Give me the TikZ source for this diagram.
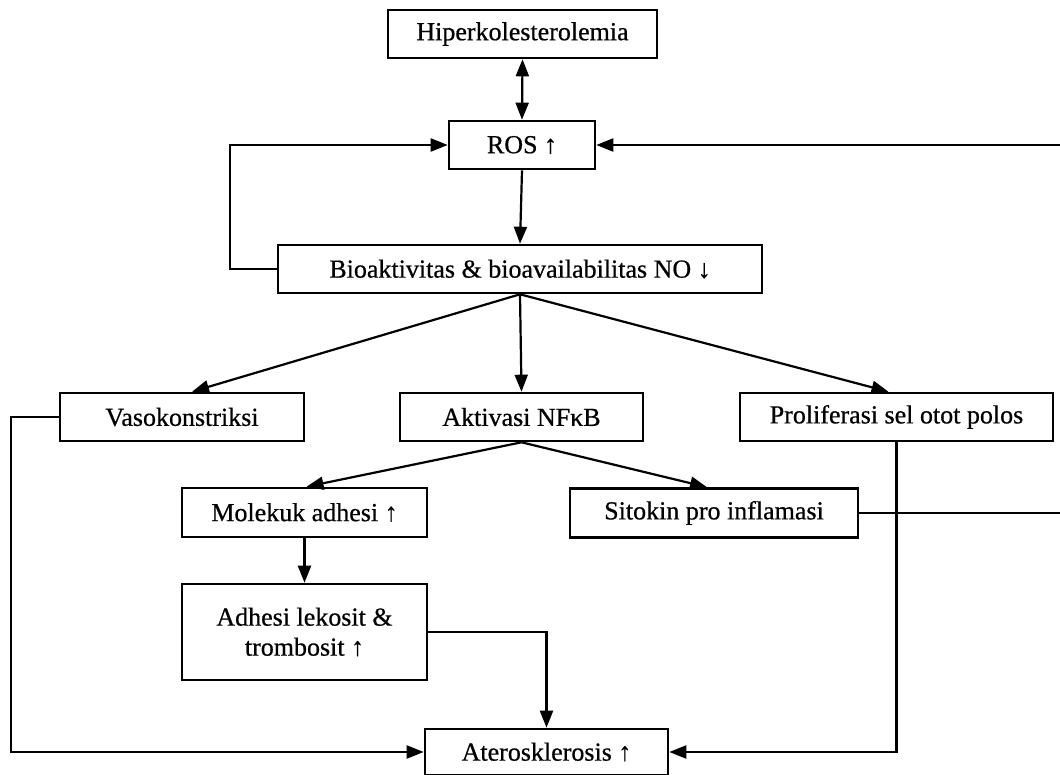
\documentclass[tikz,border=0pt]{standalone}
\usepackage{fontspec}
\setmainfont[FakeBold=0.6]{Liberation Serif}
\usetikzlibrary{arrows.meta}

\tikzset{
  box/.style={draw=black, line width=2.6pt, fill=white, inner sep=0pt,
    font=\fontsize{26}{30}\selectfont, align=center},
  link/.style={line width=2.2pt, draw=black},
  tip/.style={-{Triangle[length=17pt,width=13pt]}},
  arr/.style={link, tip},
  biarr/.style={link, {Triangle[length=17pt,width=13pt]}-{Triangle[length=17pt,width=13pt]}}
}

\begin{document}
\begin{tikzpicture}[x=1pt, y=-1pt]
\useasboundingbox (0,0) rectangle (1060,775);

% boxes
\node[box, minimum width=269pt, minimum height=48pt] (hiper) at (522.5,34) {Hiperkolesterolemia};
\node[box, minimum width=146pt, minimum height=48pt] (ros) at (522,145) {ROS ↑};
\node[box, minimum width=484pt, minimum height=48pt] (bio) at (520,269) {Bioaktivitas \& bioavailabilitas NO ↓};
\node[box, minimum width=244pt, minimum height=48pt] (vaso) at (182,417) {Vasokonstriksi};
\node[box, minimum width=243pt, minimum height=48pt] (akt) at (521.5,417) {Aktivasi NFκB};
\node[box, minimum width=313pt, minimum height=48pt] (prol) at (896.5,417) {Proliferasi sel otot polos};
\node[box, minimum width=245pt, minimum height=49pt] (mol) at (304.5,512.5) {Molekuk adhesi ↑};
\node[box, minimum width=288pt, minimum height=49pt] (sit) at (714,513) {Sitokin pro inflamasi};
\node[box, minimum width=245pt, minimum height=96pt] (adh) at (304.5,632) {Adhesi lekosit \&\\trombosit ↑};
\node[box, minimum width=243pt, minimum height=46pt] (ate) at (546.5,752) {Aterosklerosis ↑};

% free ends running off the right edge
\coordinate (rosin) at (1062,145);
\coordinate (sitout) at (1062,513);

% connectors
\draw[biarr] (hiper.south) -- (ros.north);
\draw[arr] (ros.south) -- (bio.north);
\draw[arr] (bio.west) -- ++(-47,0) |- (ros.west);
\draw[arr] (rosin) -- (ros.east);

\draw[arr] (bio.south) -- ([xshift=10pt]vaso.north);
\draw[arr] (bio.south) -- (akt.north);
\draw[arr] (bio.south) -- ([xshift=-8pt]prol.north);

\draw[arr] (akt.south) -- ([xshift=2pt]mol.north);
\draw[arr] (akt.south) -- ([xshift=-7pt]sit.north);
\draw[link] (sit.east) -- (sitout);

\draw[arr] (mol.south) -- (adh.north);
\draw[arr] (adh.east) -| (ate.north);
\draw[arr] (vaso.west) -- ++(-48,0) |- (ate.west);
\draw[arr] (prol.south) |- (ate.east);
\end{tikzpicture}
\end{document}
